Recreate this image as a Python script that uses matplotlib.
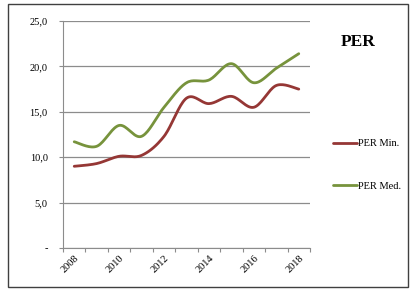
import matplotlib.pyplot as plt
from matplotlib.patches import Rectangle
import numpy as np

years = [2008, 2009, 2010, 2011, 2012, 2013, 2014, 2015, 2016, 2017, 2018]
per_min = [9.0, 9.3, 10.1, 10.2, 12.3, 16.5, 15.9, 16.7, 15.5, 17.9, 17.5]
per_med = [11.7, 11.2, 13.5, 12.3, 15.5, 18.2, 18.5, 20.3, 18.2, 19.8, 21.4]
yticks = [0, 5, 10, 15, 20, 25]
ylabels = ['-', '5,0', '10,0', '15,0', '20,0', '25,0']


def smooth(x, y, steps=20):
    # catmull-rom style curve, like excel's smoothed line
    x = np.asarray(x, float)
    y = np.asarray(y, float)
    px = np.concatenate([[x[0]], x, [x[-1]]])
    py = np.concatenate([[y[0]], y, [y[-1]]])
    xs, ys = [], []
    t = np.linspace(0, 1, steps)
    for i in range(1, len(px) - 2):
        for p, out in ((px, xs), (py, ys)):
            p0, p1, p2, p3 = p[i - 1], p[i], p[i + 1], p[i + 2]
            c1 = p1 + (p2 - p0) / 6
            c2 = p2 - (p3 - p1) / 6
            out.extend((1 - t) ** 3 * p1 + 3 * (1 - t) ** 2 * t * c1
                       + 3 * (1 - t) * t ** 2 * c2 + t ** 3 * p2)
    return xs, ys


plt.rcParams['font.family'] = 'Liberation Serif'
fig = plt.figure(figsize=(4.16, 2.91), dpi=100)
ax = fig.add_axes([63 / 416, 1 - 248 / 291, 247 / 416, 227 / 291])

xpos = np.arange(len(years))
sx, sy = smooth(xpos, per_min)
ax.plot(sx, sy, color='#953735', lw=2.0, solid_capstyle='round', label='PER Min.')
sx, sy = smooth(xpos, per_med)
ax.plot(sx, sy, color='#77933C', lw=2.0, solid_capstyle='round', label='PER Med.')

ax.set_xlim(-0.5, len(years) - 0.5)
ax.set_ylim(0, 25)
ax.set_yticks(yticks)
ax.set_yticklabels(ylabels, fontsize=7.5)
ax.yaxis.grid(True, color='#8c8c8c', lw=0.9)
ax.set_axisbelow(True)

# tick marks between categories, labels at every second category
ax.set_xticks(np.arange(len(years) + 1) - 0.5)
ax.set_xticklabels([])
ax.set_xticks(xpos[::2], minor=True)
ax.set_xticklabels([str(y) for y in years[::2]], minor=True, rotation=45,
                   ha='right', va='top', fontsize=7.5, rotation_mode='anchor')
ax.tick_params(axis='x', which='minor', length=0, pad=4)
ax.tick_params(axis='x', which='major', length=3, color='#8c8c8c')
ax.tick_params(axis='y', length=3, color='#8c8c8c', pad=8)
for s in ['top', 'right']:
    ax.spines[s].set_visible(False)
for s in ['left', 'bottom']:
    ax.spines[s].set_color('#8c8c8c')

fig.text(0.86, 0.855, 'PER', fontsize=12.5, fontweight='bold', ha='center', va='center')

fig.legend(*ax.get_legend_handles_labels(),
           loc='center left', bbox_to_anchor=(324 / 416, 1 - 165 / 291), frameon=False,
           fontsize=7.5, handlelength=2.3, handletextpad=0.1, labelspacing=3.2)

fig.add_artist(Rectangle((8 / 416, 4 / 291), 400 / 416, 283 / 291, transform=fig.transFigure,
                         fill=False, edgecolor='#404040', lw=1.0))

fig.savefig('out.png', dpi=100)
